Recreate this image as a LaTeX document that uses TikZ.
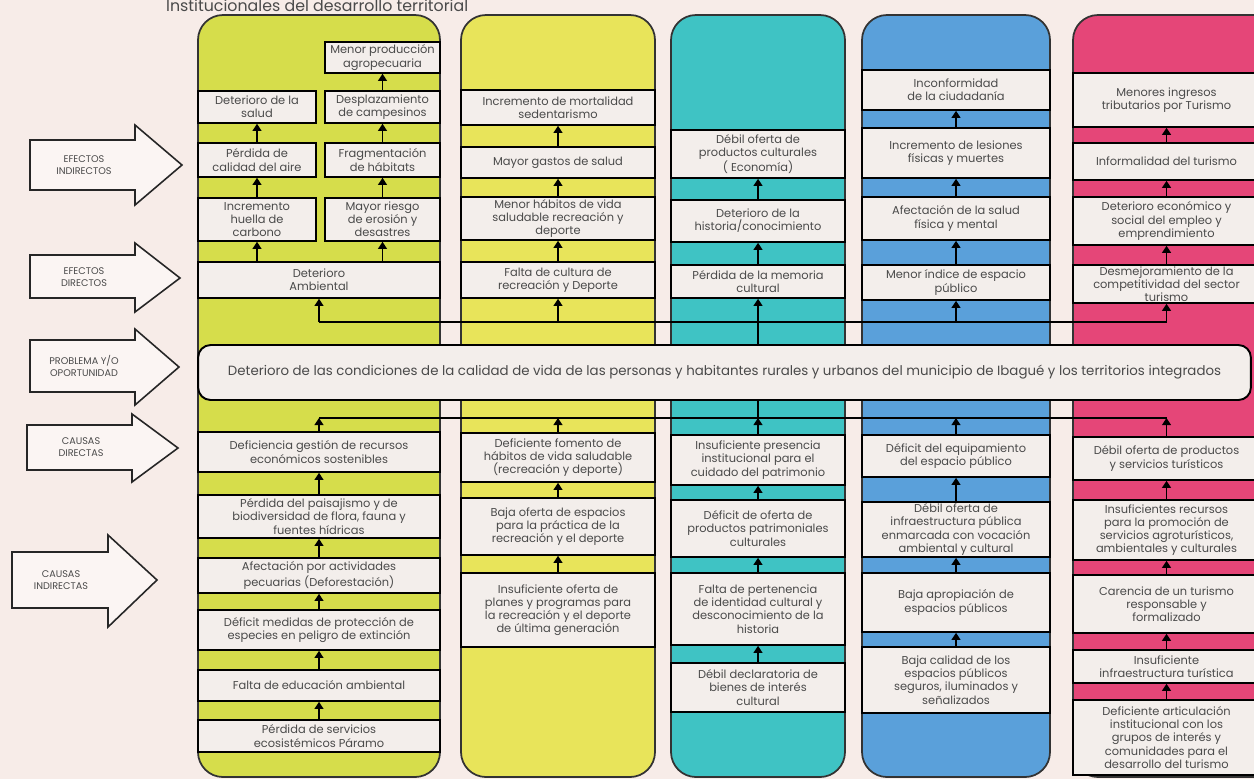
\documentclass[tikz,border=0pt]{standalone}
\usepackage{fontspec}
\setmainfont{Poppins}
\usetikzlibrary{arrows.meta}
\definecolor{fondo}{HTML}{F7ECE8}
\definecolor{caja}{HTML}{F3EEEB}
\definecolor{verde}{HTML}{D6DD4B}
\definecolor{amarillo}{HTML}{E8E45A}
\definecolor{turquesa}{HTML}{3FC3C4}
\definecolor{azul}{HTML}{5AA0DA}
\definecolor{rosa}{HTML}{E54678}
\definecolor{letra}{HTML}{4A4A4A}

\begin{document}
\begin{tikzpicture}[x=0.02cm, y=-0.02cm,
        columna/.style={draw=black!80, line width=1pt, rounded corners=0.5cm},
        cajita/.style={draw=black, line width=0.9pt, fill=caja, inner sep=0pt,
                       align=center, text=letra, font=\fontsize{6.5}{7.5}\selectfont},
        izq/.style={minimum width=2.36cm},
        der/.style={minimum width=2.30cm},
        ancho1/.style={minimum width=4.84cm},
        ancho2/.style={minimum width=3.88cm},
        ancho3/.style={minimum width=3.48cm},
        ancho4/.style={minimum width=3.76cm},
        ancho5/.style={minimum width=3.74cm},
        flecha/.style={-{Triangle[length=4pt, width=5pt]}, line width=0.9pt},
        bloque/.style={draw=black!85, line width=0.9pt, fill=fondo!50!white},
        rotulo/.style={align=center, text=letra, font=\fontsize{5.5}{7}\selectfont}
      ]
      \path[use as bounding box, fill=fondo] (0,0) rectangle (1254,779);
      \clip (0,0) rectangle (1254,779);

      \node[anchor=base west, text=letra, font=\fontsize{9}{10}\selectfont] (titulo)
        at (160,11.5) {Institucionales del desarrollo territorial};

      % columnas
      \draw[columna, fill=verde] (198,15) rectangle (440,777);
      \draw[columna, fill=amarillo] (461,15) rectangle (655,777);
      \draw[columna, fill=turquesa] (671,15) rectangle (845,777);
      \draw[columna, fill=azul] (862,15) rectangle (1050,777);
      \draw[columna, fill=rosa] (1073,15) rectangle (1300,777);

      % flechas de la izquierda
      \draw[bloque] (30,140) -- (135,140) -- (135,125) -- (182,165) -- (135,205)
        -- (135,190) -- (30,190) -- cycle;
      \node[rotulo] (ei) at (84,165) {EFECTOS\\INDIRECTOS};
      \draw[bloque] (30,255) -- (135,255) -- (135,243) -- (180,278) -- (135,312)
        -- (135,298) -- (30,298) -- cycle;
      \node[rotulo] (ed) at (84,277) {EFECTOS\\DIRECTOS};
      \draw[bloque] (30,340) -- (135,340) -- (135,329) -- (179,367) -- (135,405)
        -- (135,392) -- (30,392) -- cycle;
      \node[rotulo] (po) at (84,366) {PROBLEMA Y/O\\OPORTUNIDAD};
      \draw[bloque] (27,425) -- (132,425) -- (132,414) -- (178,448) -- (132,482)
        -- (132,470) -- (27,470) -- cycle;
      \node[rotulo] (cd) at (81,447) {CAUSAS\\DIRECTAS};
      \draw[bloque] (12,552) -- (108,552) -- (108,535) -- (157,580) -- (108,627)
        -- (108,608) -- (12,608) -- cycle;
      \node[rotulo] (ci) at (61,580) {CAUSAS\\INDIRECTAS};

      % columna 1: ambiental
      \node[cajita, der, minimum height=0.62cm] (mp) at (382.5,57.5) {Menor producción\\agropecuaria};
      \node[cajita, izq, minimum height=0.64cm] (ds) at (257,107) {Deterioro de la\\salud};
      \node[cajita, der, minimum height=0.64cm] (dc) at (382.5,107) {Desplazamiento\\de campesinos};
      \node[cajita, izq, minimum height=0.68cm] (pa) at (257,160) {Pérdida de\\calidad del aire};
      \node[cajita, der, minimum height=0.68cm] (fh) at (382.5,160) {Fragmentación\\de hábitats};
      \node[cajita, izq, minimum height=0.86cm] (hc) at (257,219.5) {Incremento\\huella de\\carbono};
      \node[cajita, der, minimum height=0.86cm] (re) at (382.5,219.5) {Mayor riesgo\\de erosión y\\desastres};
      \node[cajita, ancho1, minimum height=0.72cm] (amb) at (319,280) {Deterioro\\Ambiental};
      \node[cajita, ancho1, minimum height=0.80cm] (c11) at (319,452)
        {Deficiencia gestión de recursos\\económicos sostenibles};
      \node[cajita, ancho1, minimum height=0.86cm] (c12) at (319,516.5)
        {Pérdida del paisajismo y de\\biodiversidad de flora, fauna y\\fuentes hídricas};
      \node[cajita, ancho1, minimum height=0.70cm] (c13) at (319,575.5)
        {Afectación por actividades\\pecuarias (Deforestación)};
      \node[cajita, ancho1, minimum height=0.80cm] (c14) at (319,630)
        {Déficit medidas de protección de\\especies en peligro de extinción};
      \node[cajita, ancho1, minimum height=0.62cm] (c15) at (319,685.5) {Falta de educación ambiental};
      \node[cajita, ancho1, minimum height=0.64cm] (c16) at (319,736)
        {Pérdida de servicios\\ecosistémicos Páramo};

      % columna 2: recreación y deporte
      \node[cajita, ancho2, minimum height=0.70cm] (e21) at (558,107.5)
        {Incremento de mortalidad\\sedentarismo};
      \node[cajita, ancho2, minimum height=0.62cm] (e22) at (558,162.5) {Mayor gastos de salud};
      \node[cajita, ancho2, minimum height=0.86cm] (e23) at (558,218.5)
        {Menor hábitos de vida\\saludable recreación y\\deporte};
      \node[cajita, ancho2, minimum height=0.72cm] (e24) at (558,280)
        {Falta de cultura de\\recreación y Deporte};
      \node[cajita, ancho2, minimum height=0.98cm] (c21) at (558,457.5)
        {Deficiente fomento de\\hábitos de vida saludable\\(recreación y deporte)};
      \node[cajita, ancho2, minimum height=1.14cm] (c22) at (558,526.5)
        {Baja oferta de espacios\\para la práctica de la\\recreación y el deporte};
      \node[cajita, ancho2, minimum height=1.48cm] (c23) at (558,610)
        {Insuficiente oferta de\\planes y programas para\\la recreación y el deporte\\de última generación};

      % columna 3: cultura
      \node[cajita, ancho3, minimum height=0.96cm] (e31) at (758,154)
        {Débil oferta de\\productos culturales\\( Economía)};
      \node[cajita, ancho3, minimum height=0.84cm] (e32) at (758,221)
        {Deterioro de la\\historia/conocimiento};
      \node[cajita, ancho3, minimum height=0.66cm] (e33) at (758,281.5)
        {Pérdida de la memoria\\cultural};
      \node[cajita, ancho3, minimum height=1.00cm] (c31) at (758,460)
        {Insuficiente presencia\\institucional para el\\cuidado del patrimonio};
      \node[cajita, ancho3, minimum height=1.14cm] (c32) at (758,528.5)
        {Déficit de oferta de\\productos patrimoniales\\culturales};
      \node[cajita, ancho3, minimum height=1.44cm] (c33) at (758,609)
        {Falta de pertenencia\\de identidad cultural y\\desconocimiento de la\\historia};
      \node[cajita, ancho3, minimum height=0.98cm] (c34) at (758,687.5)
        {Débil declaratoria de\\bienes de interés\\cultural};

      % columna 4: espacio público
      \node[cajita, ancho4, minimum height=0.80cm] (e41) at (956,90)
        {Inconformidad\\de la ciudadanía};
      \node[cajita, ancho4, minimum height=1.00cm] (e42) at (956,153)
        {Incremento de lesiones\\físicas y muertes};
      \node[cajita, ancho4, minimum height=0.86cm] (e43) at (956,218.5)
        {Afectación de la salud\\física y mental};
      \node[cajita, ancho4, minimum height=0.70cm] (e44) at (956,282.5)
        {Menor índice de espacio\\público};
      \node[cajita, ancho4, minimum height=0.84cm] (c41) at (956,456)
        {Déficit del equipamiento\\del espacio público};
      \node[cajita, ancho4, minimum height=1.10cm] (c42) at (956,529.5)
        {Débil oferta de\\infraestructura pública\\enmarcada con vocación\\ambiental y cultural};
      \node[cajita, ancho4, minimum height=1.18cm] (c43) at (956,602.5)
        {Baja apropiación de\\espacios públicos};
      \node[cajita, ancho4, minimum height=1.32cm] (c44) at (956,680)
        {Baja calidad de los\\espacios públicos\\seguros, iluminados y\\señalizados};

      % columna 5: turismo
      \node[cajita, ancho5, minimum height=1.08cm] (e51) at (1166.5,100)
        {Menores ingresos\\tributarios por Turismo};
      \node[cajita, ancho5, minimum height=0.74cm] (e52) at (1166.5,161.5)
        {Informalidad del turismo};
      \node[cajita, ancho5, minimum height=0.96cm] (e53) at (1166.5,221)
        {Deterioro económico y\\social del empleo y\\emprendimiento};
      \node[cajita, ancho5, minimum height=0.76cm] (e54) at (1166.5,284)
        {Desmejoramiento de la\\competitividad del sector\\turismo};
      \node[cajita, ancho5, minimum height=0.86cm] (c51) at (1166.5,458.5)
        {Débil oferta de productos\\y servicios turísticos};
      \node[cajita, ancho5, minimum height=1.20cm] (c52) at (1166.5,530)
        {Insuficientes recursos\\para la promoción de\\servicios agroturísticos,\\ambientales y culturales};
      \node[cajita, ancho5, minimum height=1.16cm] (c53) at (1166.5,604)
        {Carencia de un turismo\\responsable y\\formalizado};
      \node[cajita, ancho5, minimum height=0.66cm] (c54) at (1166.5,666.5)
        {Insuficiente\\infraestructura turística};
      \node[cajita, ancho5, minimum height=1.50cm] (c55) at (1166.5,737.5)
        {Deficiente articulación\\institucional con los\\grupos de interés y\\comunidades para el\\desarrollo del turismo};

      % lineas de union
      \coordinate (ea1) at (319,322);
      \coordinate (ea2) at (558,322);
      \coordinate (ea3) at (758,322);
      \coordinate (ea4) at (956,322);
      \coordinate (ea5) at (1166.5,322);
      \coordinate (ca1) at (319,418);
      \coordinate (ca2) at (558,418);
      \coordinate (ca3) at (758,418);
      \coordinate (ca4) at (956,418);
      \coordinate (ca5) at (1166.5,418);
      \draw[line width=0.9pt] (ea1) -- (ea5);
      \draw[line width=0.9pt] (ca1) -- (ca5);
      \draw[line width=0.9pt] (ca3) -- (ea3);

      % problema
      \node[cajita, rounded corners=0.25cm, line width=1.1pt, minimum width=21.06cm,
            minimum height=1.1cm, font=\fontsize{7.6}{8.6}\selectfont] (prob) at (724.5,372.5)
        {Deterioro de las condiciones de la calidad de vida de las personas y habitantes rurales y urbanos del municipio de Ibagué y los territorios integrados};

      % flechas
      \draw[flecha] (hc) -- (pa);
      \draw[flecha] (pa) -- (ds);
      \draw[flecha] (re) -- (fh);
      \draw[flecha] (fh) -- (dc);
      \draw[flecha] (dc) -- (mp);
      \draw[flecha] (amb.north -| hc) -- (hc);
      \draw[flecha] (amb.north -| re) -- (re);
      \draw[flecha] (e24) -- (e23);
      \draw[flecha] (e23) -- (e22);
      \draw[flecha] (e22) -- (e21);
      \draw[flecha] (e33) -- (e32);
      \draw[flecha] (e32) -- (e31);
      \draw[flecha] (e44) -- (e43);
      \draw[flecha] (e43) -- (e42);
      \draw[flecha] (e42) -- (e41);
      \draw[flecha] (e54) -- (e53);
      \draw[flecha] (e53) -- (e52);
      \draw[flecha] (e52) -- (e51);
      \draw[flecha] (ea1) -- (amb);
      \draw[flecha] (ea2) -- (e24);
      \draw[flecha] (ea3) -- (e33);
      \draw[flecha] (ea4) -- (e44);
      \draw[flecha] (ea5) -- (e54);
      \draw[flecha] (c11) -- (ca1);
      \draw[flecha] (c21) -- (ca2);
      \draw[flecha] (c31) -- (ca3);
      \draw[flecha] (c41) -- (ca4);
      \draw[flecha] (c51) -- (ca5);
      \draw[flecha] (c16) -- (c15);
      \draw[flecha] (c15) -- (c14);
      \draw[flecha] (c14) -- (c13);
      \draw[flecha] (c13) -- (c12);
      \draw[flecha] (c12) -- (c11);
      \draw[flecha] (c23) -- (c22);
      \draw[flecha] (c22) -- (c21);
      \draw[flecha] (c34) -- (c33);
      \draw[flecha] (c33) -- (c32);
      \draw[flecha] (c32) -- (c31);
      \draw[flecha] (c44) -- (c43);
      \draw[flecha] (c43) -- (c42);
      \draw[flecha] (c42) -- (c41);
      \draw[flecha] (c55) -- (c54);
      \draw[flecha] (c54) -- (c53);
      \draw[flecha] (c53) -- (c52);
      \draw[flecha] (c52) -- (c51);
    \end{tikzpicture}
\end{document}
